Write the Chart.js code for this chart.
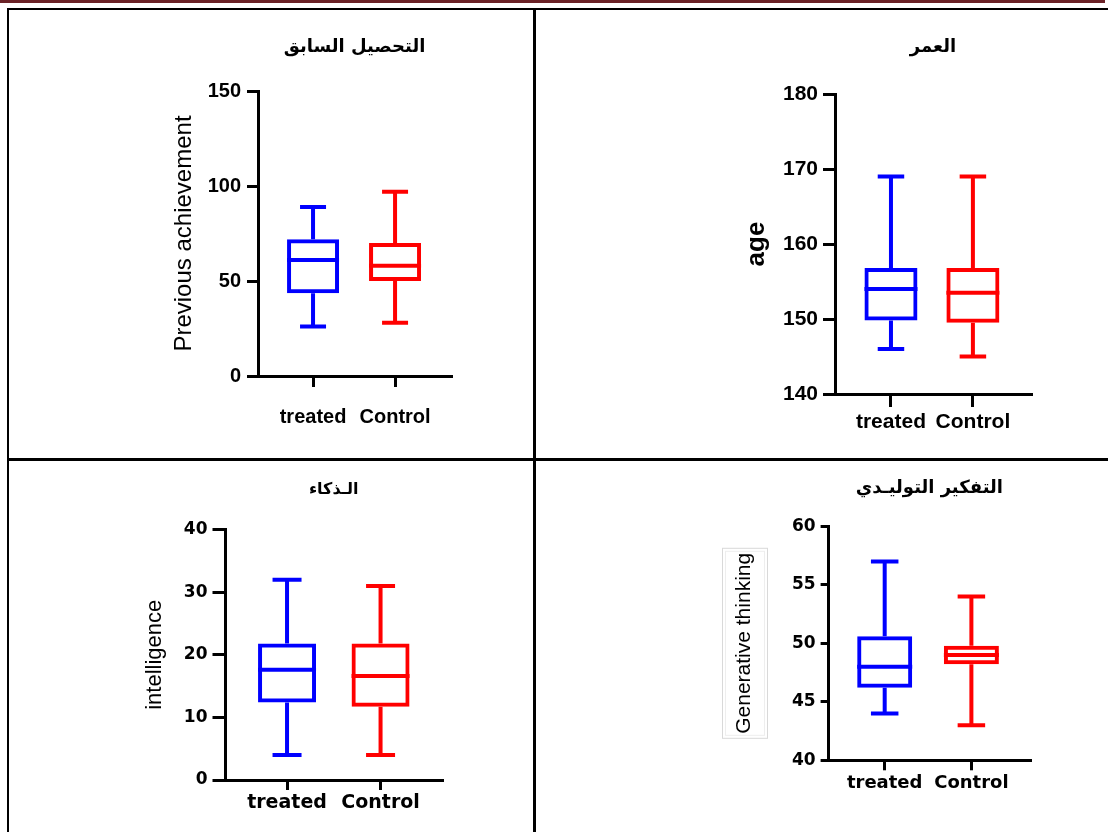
<!DOCTYPE html>
<html lang="en">
<head>
<meta charset="utf-8">
<title>Box plots - treated vs Control</title>
<script src="https://cdn.jsdelivr.net/npm/chart.js@4.4.1/dist/chart.umd.min.js"></script>
<style>
  html, body { margin: 0; padding: 0; background: #fff; }
  body { width: 1108px; height: 832px; position: relative; overflow: hidden; }
  .top-band { position: absolute; left: 0; top: 0; width: 1105px; height: 3px; background: #6b2227; }
  .rule { position: absolute; background: #000; }
  canvas { position: absolute; }
</style>
</head>
<body>
<div class="top-band"></div>
<div class="rule" style="left:7px;top:8px;width:1101px;height:2px"></div>
<div class="rule" style="left:7px;top:8px;width:2px;height:824px"></div>
<div class="rule" style="left:533px;top:8px;width:2.5px;height:824px"></div>
<div class="rule" style="left:7px;top:458px;width:1101px;height:2.5px"></div>

<canvas id="chartPrev" width="524" height="448" style="left:9px;top:10px"></canvas>
<canvas id="chartAge" width="573" height="448" style="left:535px;top:10px"></canvas>
<canvas id="chartIq" width="524" height="372" style="left:9px;top:460px"></canvas>
<canvas id="chartGen" width="573" height="372" style="left:535px;top:460px"></canvas>

<script>
// categories
const groups = ['treated', 'Control'];
const groupColors = ['#0000ff', '#ff0000'];

// التحصيل السابق - Previous achievement (min, Q1, median, Q3, max per group)
const prevMin = [26, 28];
const prevQ1 = [43.5, 50];
const prevMed = [61, 58];
const prevQ3 = [72, 70];
const prevMax = [89, 97];
const prevTicks = [0, 50, 100, 150];

// العمر - age
const ageMin = [146, 145];
const ageQ1 = [149.8, 149.5];
const ageMed = [154, 153.5];
const ageQ3 = [156.8, 156.8];
const ageMax = [169, 169];
const ageTicks = [140, 150, 160, 170, 180];

// الذكاء - intelligence
const iqMin = [4, 4];
const iqQ1 = [12.4, 11.7];
const iqMed = [17.6, 16.6];
const iqQ3 = [21.8, 21.8];
const iqMax = [32, 31];
const iqTicks = [0, 10, 20, 30, 40];

// التفكير التوليدي - Generative thinking
const genMin = [44, 43];
const genQ1 = [46.2, 48.2];
const genMed = [48, 49];
const genQ3 = [50.6, 49.8];
const genMax = [57, 54];
const genTicks = [40, 45, 50, 55, 60];

const ARIAL = "'Liberation Sans', Arial, sans-serif";
const WIDE = "'DejaVu Sans', Verdana, sans-serif";

// whiskers + median drawn from the y scale of each chart
function whiskerPlugin(stats) {
    return {
        id: 'boxWhiskers',
        afterDatasetsDraw(chart) {
            const ctx = chart.ctx;
            const y = chart.scales.y;
            const meta = chart.getDatasetMeta(0);
            ctx.save();
            ctx.lineWidth = 4;
            ctx.lineCap = 'butt';
            meta.data.forEach((bar, i) => {
                const cx = bar.x;
                const half = bar.width / 2;
                const cap = half * 0.5;
                const yMin = y.getPixelForValue(stats.min[i]);
                const yQ1 = y.getPixelForValue(stats.q1[i]);
                const yMed = y.getPixelForValue(stats.med[i]);
                const yQ3 = y.getPixelForValue(stats.q3[i]);
                const yMax = y.getPixelForValue(stats.max[i]);
                ctx.strokeStyle = groupColors[i];
                ctx.beginPath();
                ctx.moveTo(cx - half, yMed); ctx.lineTo(cx + half, yMed);
                ctx.moveTo(cx, yQ3); ctx.lineTo(cx, yMax);
                ctx.moveTo(cx - cap, yMax); ctx.lineTo(cx + cap, yMax);
                ctx.moveTo(cx, yQ1); ctx.lineTo(cx, yMin);
                ctx.moveTo(cx - cap, yMin); ctx.lineTo(cx + cap, yMin);
                ctx.stroke();
            });
            ctx.restore();
        }
    };
}

// faint frame around the y title of the last chart
const titleFrame = {
    id: 'titleFrame',
    afterDraw(chart) {
        const ctx = chart.ctx;
        const y = chart.scales.y;
        const cx = y.left + 12.6;
        const cy = (chart.chartArea.top + chart.chartArea.bottom) / 2;
        ctx.save();
        ctx.strokeStyle = '#d9d9d9';
        ctx.lineWidth = 1;
        ctx.strokeRect(cx - 21.5, cy - 95, 45, 190);
        ctx.strokeStyle = '#eeeeee';
        ctx.strokeRect(cx - 18.5, cy - 92, 39, 184);
        ctx.restore();
    }
};

function makeBoxChart(id, c) {
    const ctx = document.getElementById(id).getContext('2d');
    const plugins = [whiskerPlugin(c.stats)];
    if (c.framed) plugins.push(titleFrame);

    return new Chart(ctx, {
        type: 'bar',
        data: {
            datasets: [{
                data: groups.map((g, i) => ({ x: i, y: [c.stats.q1[i], c.stats.q3[i]] })),
                backgroundColor: 'rgba(0,0,0,0)',
                borderColor: groupColors,
                borderWidth: 4,
                borderSkipped: false,
                inflateAmount: 0,
                barThickness: c.barW
            }]
        },
        options: {
            responsive: false,
            animation: false,
            layout: { padding: c.pad },
            plugins: {
                legend: { display: false },
                tooltip: { enabled: false },
                title: {
                    display: true,
                    text: c.title,
                    fullSize: false,
                    color: '#000',
                    font: { family: WIDE, size: c.titleSize, weight: 'bold' },
                    padding: c.titlePad
                }
            },
            scales: {
                x: {
                    type: 'linear',
                    min: c.xMin,
                    max: c.xMax,
                    offset: false,
                    afterBuildTicks: s => { s.ticks = groups.map((g, i) => ({ value: i })); },
                    afterFit: s => { s.height = c.xH; },
                    ticks: {
                        callback: v => groups[v],
                        autoSkip: false,
                        maxRotation: 0,
                        color: '#000',
                        padding: c.xTickPad,
                        font: { family: c.tickFamily, size: c.xFont, weight: 'bold' }
                    },
                    grid: { offset: false, drawOnChartArea: false, tickLength: c.xTick, lineWidth: 3, color: '#000' },
                    border: { display: true, width: 3, color: '#000' }
                },
                y: {
                    min: c.yTicks[0],
                    max: c.yTicks[c.yTicks.length - 1],
                    afterBuildTicks: s => { s.ticks = c.yTicks.map(v => ({ value: v })); },
                    afterFit: s => { s.width = c.yW; },
                    ticks: {
                        color: '#000',
                        padding: c.yTickPad,
                        font: { family: c.tickFamily, size: c.yFont, weight: 'bold' }
                    },
                    grid: { drawOnChartArea: false, tickLength: c.yTick, lineWidth: 3, color: '#000' },
                    border: { display: true, width: 3, color: '#000' },
                    title: {
                        display: true,
                        text: c.yTitle,
                        color: '#000',
                        padding: 0,
                        font: c.yTitleFont
                    }
                }
            }
        },
        plugins: plugins
    });
}

document.addEventListener('DOMContentLoaded', () => {
    makeBoxChart('chartPrev', {
        title: 'التحصيل السابق', titleSize: 18, titlePad: { top: 26.2, bottom: 33.2 },
        stats: { min: prevMin, q1: prevQ1, med: prevMed, q3: prevQ3, max: prevMax },
        yTicks: prevTicks, yTitle: 'Previous achievement',
        yTitleFont: { family: ARIAL, size: 24, weight: 'normal' },
        pad: { left: 160.6, right: 82, top: 0, bottom: 22 }, yW: 88.4, xH: 60,
        xMin: -0.671, xMax: 1.682, barW: 52,
        tickFamily: ARIAL, yFont: 20, xFont: 20,
        yTick: 11, yTickPad: 6, xTick: 11, xTickPad: 18
    });

    makeBoxChart('chartAge', {
        title: 'العمر', titleSize: 18, titlePad: { top: 26.2, bottom: 36.2 },
        stats: { min: ageMin, q1: ageQ1, med: ageMed, q3: ageQ3, max: ageMax },
        yTicks: ageTicks, yTitle: 'age',
        yTitleFont: { family: ARIAL, size: 26, weight: 'bold' },
        pad: { left: 206.4, right: 77, top: 0, bottom: 9 }, yW: 93.6, xH: 55,
        xMin: -0.683, xMax: 1.709, barW: 53,
        tickFamily: ARIAL, yFont: 21, xFont: 21,
        yTick: 12, yTickPad: 5, xTick: 13, xTickPad: 3
    });

    makeBoxChart('chartIq', {
        title: 'الـذكاء', titleSize: 16, titlePad: { top: 20.2, bottom: 30.2 },
        stats: { min: iqMin, q1: iqQ1, med: iqMed, q3: iqQ3, max: iqMax },
        yTicks: iqTicks, yTitle: 'intelligence',
        yTitleFont: { family: ARIAL, size: 22, weight: 'normal' },
        pad: { left: 132.8, right: 91, top: 0, bottom: 7 }, yW: 83.7, xH: 45,
        xMin: -0.658, xMax: 1.657, barW: 58,
        tickFamily: WIDE, yFont: 17, xFont: 19,
        yTick: 13, yTickPad: 5, xTick: 10, xTickPad: 1.5
    });

    makeBoxChart('chartGen', {
        title: 'التفكير التوليـدي', titleSize: 18, titlePad: { top: 17.2, bottom: 27.5 },
        stats: { min: genMin, q1: genQ1, med: genMed, q3: genQ3, max: genMax },
        yTicks: genTicks, yTitle: 'Generative thinking', framed: true,
        yTitleFont: { family: ARIAL, size: 21, weight: 'normal' },
        pad: { left: 196.4, right: 78, top: 0, bottom: 21.7 }, yW: 97.2, xH: 50,
        xMin: -0.647, xMax: 1.676, barW: 55,
        tickFamily: WIDE, yFont: 17, xFont: 18,
        yTick: 8, yTickPad: 5, xTick: 10, xTickPad: 2
    });
});
</script>
</body>
</html>
